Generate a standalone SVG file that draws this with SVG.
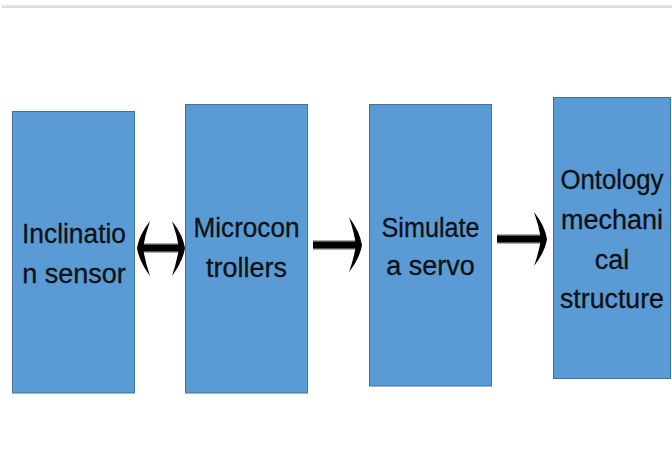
<svg xmlns="http://www.w3.org/2000/svg" width="672" height="457" viewBox="0 0 672 457">
<defs>
<linearGradient id="shaft" x1="0" y1="0" x2="0" y2="1">
<stop offset="0" stop-color="#000" stop-opacity="0.15"/>
<stop offset="0.25" stop-color="#000"/>
<stop offset="0.75" stop-color="#000"/>
<stop offset="1" stop-color="#000" stop-opacity="0.15"/>
</linearGradient>
<style>
.box{fill:#5B9BD5;stroke:#41719C;stroke-width:1}
.lbl{font-family:"Liberation Sans",Arial,sans-serif;font-size:27px;fill:#111;stroke:#111;stroke-width:0.3;text-anchor:middle}
.head{fill:#000}
.shaft{fill:url(#shaft)}
</style>
</defs>
<rect x="2" y="5" width="670" height="3" fill="#e4e4e4"/>
<rect x="2" y="7" width="670" height="1" fill="#d6d6d6"/>
<g id="node-inclination">
<rect class="box" x="12.5" y="111.5" width="122" height="281.5"/>
<text class="lbl" x="74" y="243" textLength="104" lengthAdjust="spacingAndGlyphs">Inclinatio</text>
<text class="lbl" x="74" y="283">n sensor</text>
</g>
<g id="node-microcontrollers">
<rect class="box" x="185.5" y="104.5" width="122" height="288.5"/>
<text class="lbl" x="246.5" y="237" textLength="106" lengthAdjust="spacingAndGlyphs">Microcon</text>
<text class="lbl" x="246.5" y="277">trollers</text>
</g>
<g id="node-servo">
<rect class="box" x="369.5" y="104.5" width="122" height="281.5"/>
<text class="lbl" x="430.5" y="237" textLength="98" lengthAdjust="spacingAndGlyphs">Simulate</text>
<text class="lbl" x="430.5" y="275">a servo</text>
</g>
<g id="node-ontology">
<rect class="box" x="553.5" y="97.5" width="117" height="281"/>
<text class="lbl" x="612" y="189" textLength="103" lengthAdjust="spacingAndGlyphs">Ontology</text>
<text class="lbl" x="612" y="229">mechani</text>
<text class="lbl" x="612" y="269">cal</text>
<text class="lbl" x="612" y="308" textLength="104" lengthAdjust="spacingAndGlyphs">structure</text>
</g>
<g id="connectors">
<rect class="shaft" x="140" y="243" width="42" height="10"/>
<path class="head" d="M150,221 Q139,235 137,248 Q139,261 150,276 Q145,261 143,248 Q145,235 150,221 Z"/>
<path class="head" d="M172,221 Q183,235 185,248 Q183,261 172,276 Q177,261 179,248 Q177,235 172,221 Z"/>
<rect class="shaft" x="313" y="240" width="45" height="10"/>
<path class="head" d="M349,217 Q360,232 362,245 Q360,258 349,272 Q354,258 356,245 Q354,232 349,217 Z"/>
<rect class="shaft" x="497" y="234" width="46" height="10"/>
<path class="head" d="M534,212 Q545,226 547,239 Q545,252 534,266 Q539,252 541,239 Q539,226 534,212 Z"/>
</g>
</svg>
